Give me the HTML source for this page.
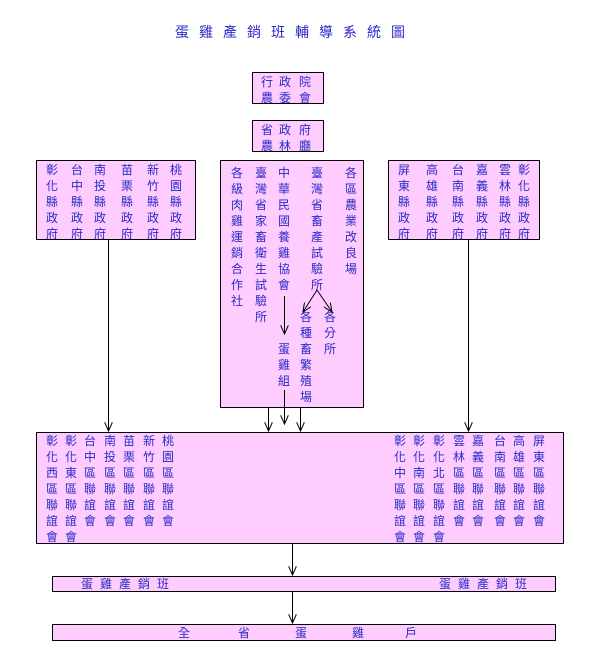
<!DOCTYPE html>
<html><head><meta charset="utf-8"><style>
body{margin:0;background:#fff;width:607px;height:672px;position:relative;overflow:hidden;font-family:"Liberation Sans","WenQuanYi Zen Hei","Noto Sans CJK TC",sans-serif;color:#2a2ac8}
.b{position:absolute;background:#ffccff;border:1px solid #000;box-sizing:border-box}
.c{position:absolute;width:14px;font-size:12px;line-height:16px;text-align:center}
.t{position:absolute;font-size:14px;line-height:16px}
svg{position:absolute;left:0;top:0}
</style></head><body>
<div class="b" style="left:252px;top:72px;width:72px;height:32px"></div>
<div class="b" style="left:252px;top:120px;width:72px;height:32px"></div>
<div class="b" style="left:36px;top:160px;width:160px;height:80px"></div>
<div class="b" style="left:220px;top:160px;width:144px;height:248px"></div>
<div class="b" style="left:388px;top:160px;width:152px;height:80px"></div>
<div class="b" style="left:36px;top:432px;width:528px;height:112px"></div>
<div class="b" style="left:52px;top:576px;width:504px;height:16px"></div>
<div class="b" style="left:52px;top:624px;width:504px;height:17px"></div>

<div class="t" style="left:175px;top:24px;letter-spacing:10px">蛋雞產銷班輔導系統圖</div>

<div class="c" style="left:260px;top:74px">行<br>農</div>
<div class="c" style="left:278px;top:74px">政<br>委</div>
<div class="c" style="left:298px;top:74px">院<br>會</div>
<div class="c" style="left:260px;top:122px">省<br>農</div>
<div class="c" style="left:278px;top:122px">政<br>林</div>
<div class="c" style="left:298px;top:122px">府<br>廳</div>

<div class="c" style="left:45px;top:162px">彰<br>化<br>縣<br>政<br>府</div>
<div class="c" style="left:70px;top:162px">台<br>中<br>縣<br>政<br>府</div>
<div class="c" style="left:93px;top:162px">南<br>投<br>縣<br>政<br>府</div>
<div class="c" style="left:120px;top:162px">苗<br>栗<br>縣<br>政<br>府</div>
<div class="c" style="left:146px;top:162px">新<br>竹<br>縣<br>政<br>府</div>
<div class="c" style="left:169px;top:162px">桃<br>園<br>縣<br>政<br>府</div>

<div class="c" style="left:230px;top:165px">各<br>級<br>肉<br>雞<br>運<br>銷<br>合<br>作<br>社</div>
<div class="c" style="left:254px;top:165px">臺<br>灣<br>省<br>家<br>畜<br>衛<br>生<br>試<br>驗<br>所</div>
<div class="c" style="left:277px;top:165px">中<br>華<br>民<br>國<br>養<br>雞<br>協<br>會</div>
<div class="c" style="left:310px;top:165px">臺<br>灣<br>省<br>畜<br>產<br>試<br>驗<br>所</div>
<div class="c" style="left:344px;top:165px">各<br>區<br>農<br>業<br>改<br>良<br>場</div>
<div class="c" style="left:277px;top:341px">蛋<br>雞<br>組</div>
<div class="c" style="left:299px;top:309px">各<br>種<br>畜<br>繁<br>殖<br>場</div>
<div class="c" style="left:323px;top:309px">各<br>分<br>所</div>

<div class="c" style="left:397px;top:162px">屏<br>東<br>縣<br>政<br>府</div>
<div class="c" style="left:425px;top:162px">高<br>雄<br>縣<br>政<br>府</div>
<div class="c" style="left:451px;top:162px">台<br>南<br>縣<br>政<br>府</div>
<div class="c" style="left:475px;top:162px">嘉<br>義<br>縣<br>政<br>府</div>
<div class="c" style="left:498px;top:162px">雲<br>林<br>縣<br>政<br>府</div>
<div class="c" style="left:517px;top:162px">彰<br>化<br>縣<br>政<br>府</div>

<div class="c" style="left:45px;top:433px">彰<br>化<br>西<br>區<br>聯<br>誼<br>會</div>
<div class="c" style="left:64px;top:433px">彰<br>化<br>東<br>區<br>聯<br>誼<br>會</div>
<div class="c" style="left:83px;top:433px">台<br>中<br>區<br>聯<br>誼<br>會</div>
<div class="c" style="left:103px;top:433px">南<br>投<br>區<br>聯<br>誼<br>會</div>
<div class="c" style="left:122px;top:433px">苗<br>栗<br>區<br>聯<br>誼<br>會</div>
<div class="c" style="left:142px;top:433px">新<br>竹<br>區<br>聯<br>誼<br>會</div>
<div class="c" style="left:161px;top:433px">桃<br>園<br>區<br>聯<br>誼<br>會</div>

<div class="c" style="left:393px;top:433px">彰<br>化<br>中<br>區<br>聯<br>誼<br>會</div>
<div class="c" style="left:412px;top:433px">彰<br>化<br>南<br>區<br>聯<br>誼<br>會</div>
<div class="c" style="left:432px;top:433px">彰<br>化<br>北<br>區<br>聯<br>誼<br>會</div>
<div class="c" style="left:452px;top:433px">雲<br>林<br>區<br>聯<br>誼<br>會</div>
<div class="c" style="left:471px;top:433px">嘉<br>義<br>區<br>聯<br>誼<br>會</div>
<div class="c" style="left:493px;top:433px">台<br>南<br>區<br>聯<br>誼<br>會</div>
<div class="c" style="left:512px;top:433px">高<br>雄<br>區<br>聯<br>誼<br>會</div>
<div class="c" style="left:532px;top:433px">屏<br>東<br>區<br>聯<br>誼<br>會</div>

<div class="t" style="left:81px;top:576px;font-size:12px;letter-spacing:7px">蛋雞產銷班</div>
<div class="t" style="left:439px;top:576px;font-size:12px;letter-spacing:7px">蛋雞產銷班</div>
<div class="t" style="left:178px;top:625px;font-size:12px">全</div>
<div class="t" style="left:238px;top:625px;font-size:12px">省</div>
<div class="t" style="left:295px;top:625px;font-size:12px">蛋</div>
<div class="t" style="left:352px;top:625px;font-size:12px">雞</div>
<div class="t" style="left:405px;top:625px;font-size:12px">戶</div>

<svg width="607" height="672" viewBox="0 0 607 672">
<defs><marker id="a" markerWidth="10" markerHeight="8" refX="9" refY="4" orient="auto" markerUnits="userSpaceOnUse"><path d="M0,0 L9,4 L0,8" fill="none" stroke="#000" stroke-width="1"/></marker></defs>
<g stroke="#000" stroke-width="1" fill="none">
<line x1="108.5" y1="240" x2="108.5" y2="431" marker-end="url(#a)"/>
<line x1="468.5" y1="240" x2="468.5" y2="431" marker-end="url(#a)"/>
<line x1="268.5" y1="408" x2="268.5" y2="431" marker-end="url(#a)"/>
<line x1="284.5" y1="390" x2="284.5" y2="424" marker-end="url(#a)"/>
<line x1="300.5" y1="408" x2="300.5" y2="431" marker-end="url(#a)"/>
<line x1="284.5" y1="296" x2="284.5" y2="334" marker-end="url(#a)"/>
<line x1="317" y1="290" x2="303" y2="312" marker-end="url(#a)"/>
<line x1="317" y1="290" x2="332" y2="312" marker-end="url(#a)"/>
<line x1="292.5" y1="544" x2="292.5" y2="575" marker-end="url(#a)"/>
<line x1="292.5" y1="592" x2="292.5" y2="623" marker-end="url(#a)"/>
</g></svg>
</body></html>
